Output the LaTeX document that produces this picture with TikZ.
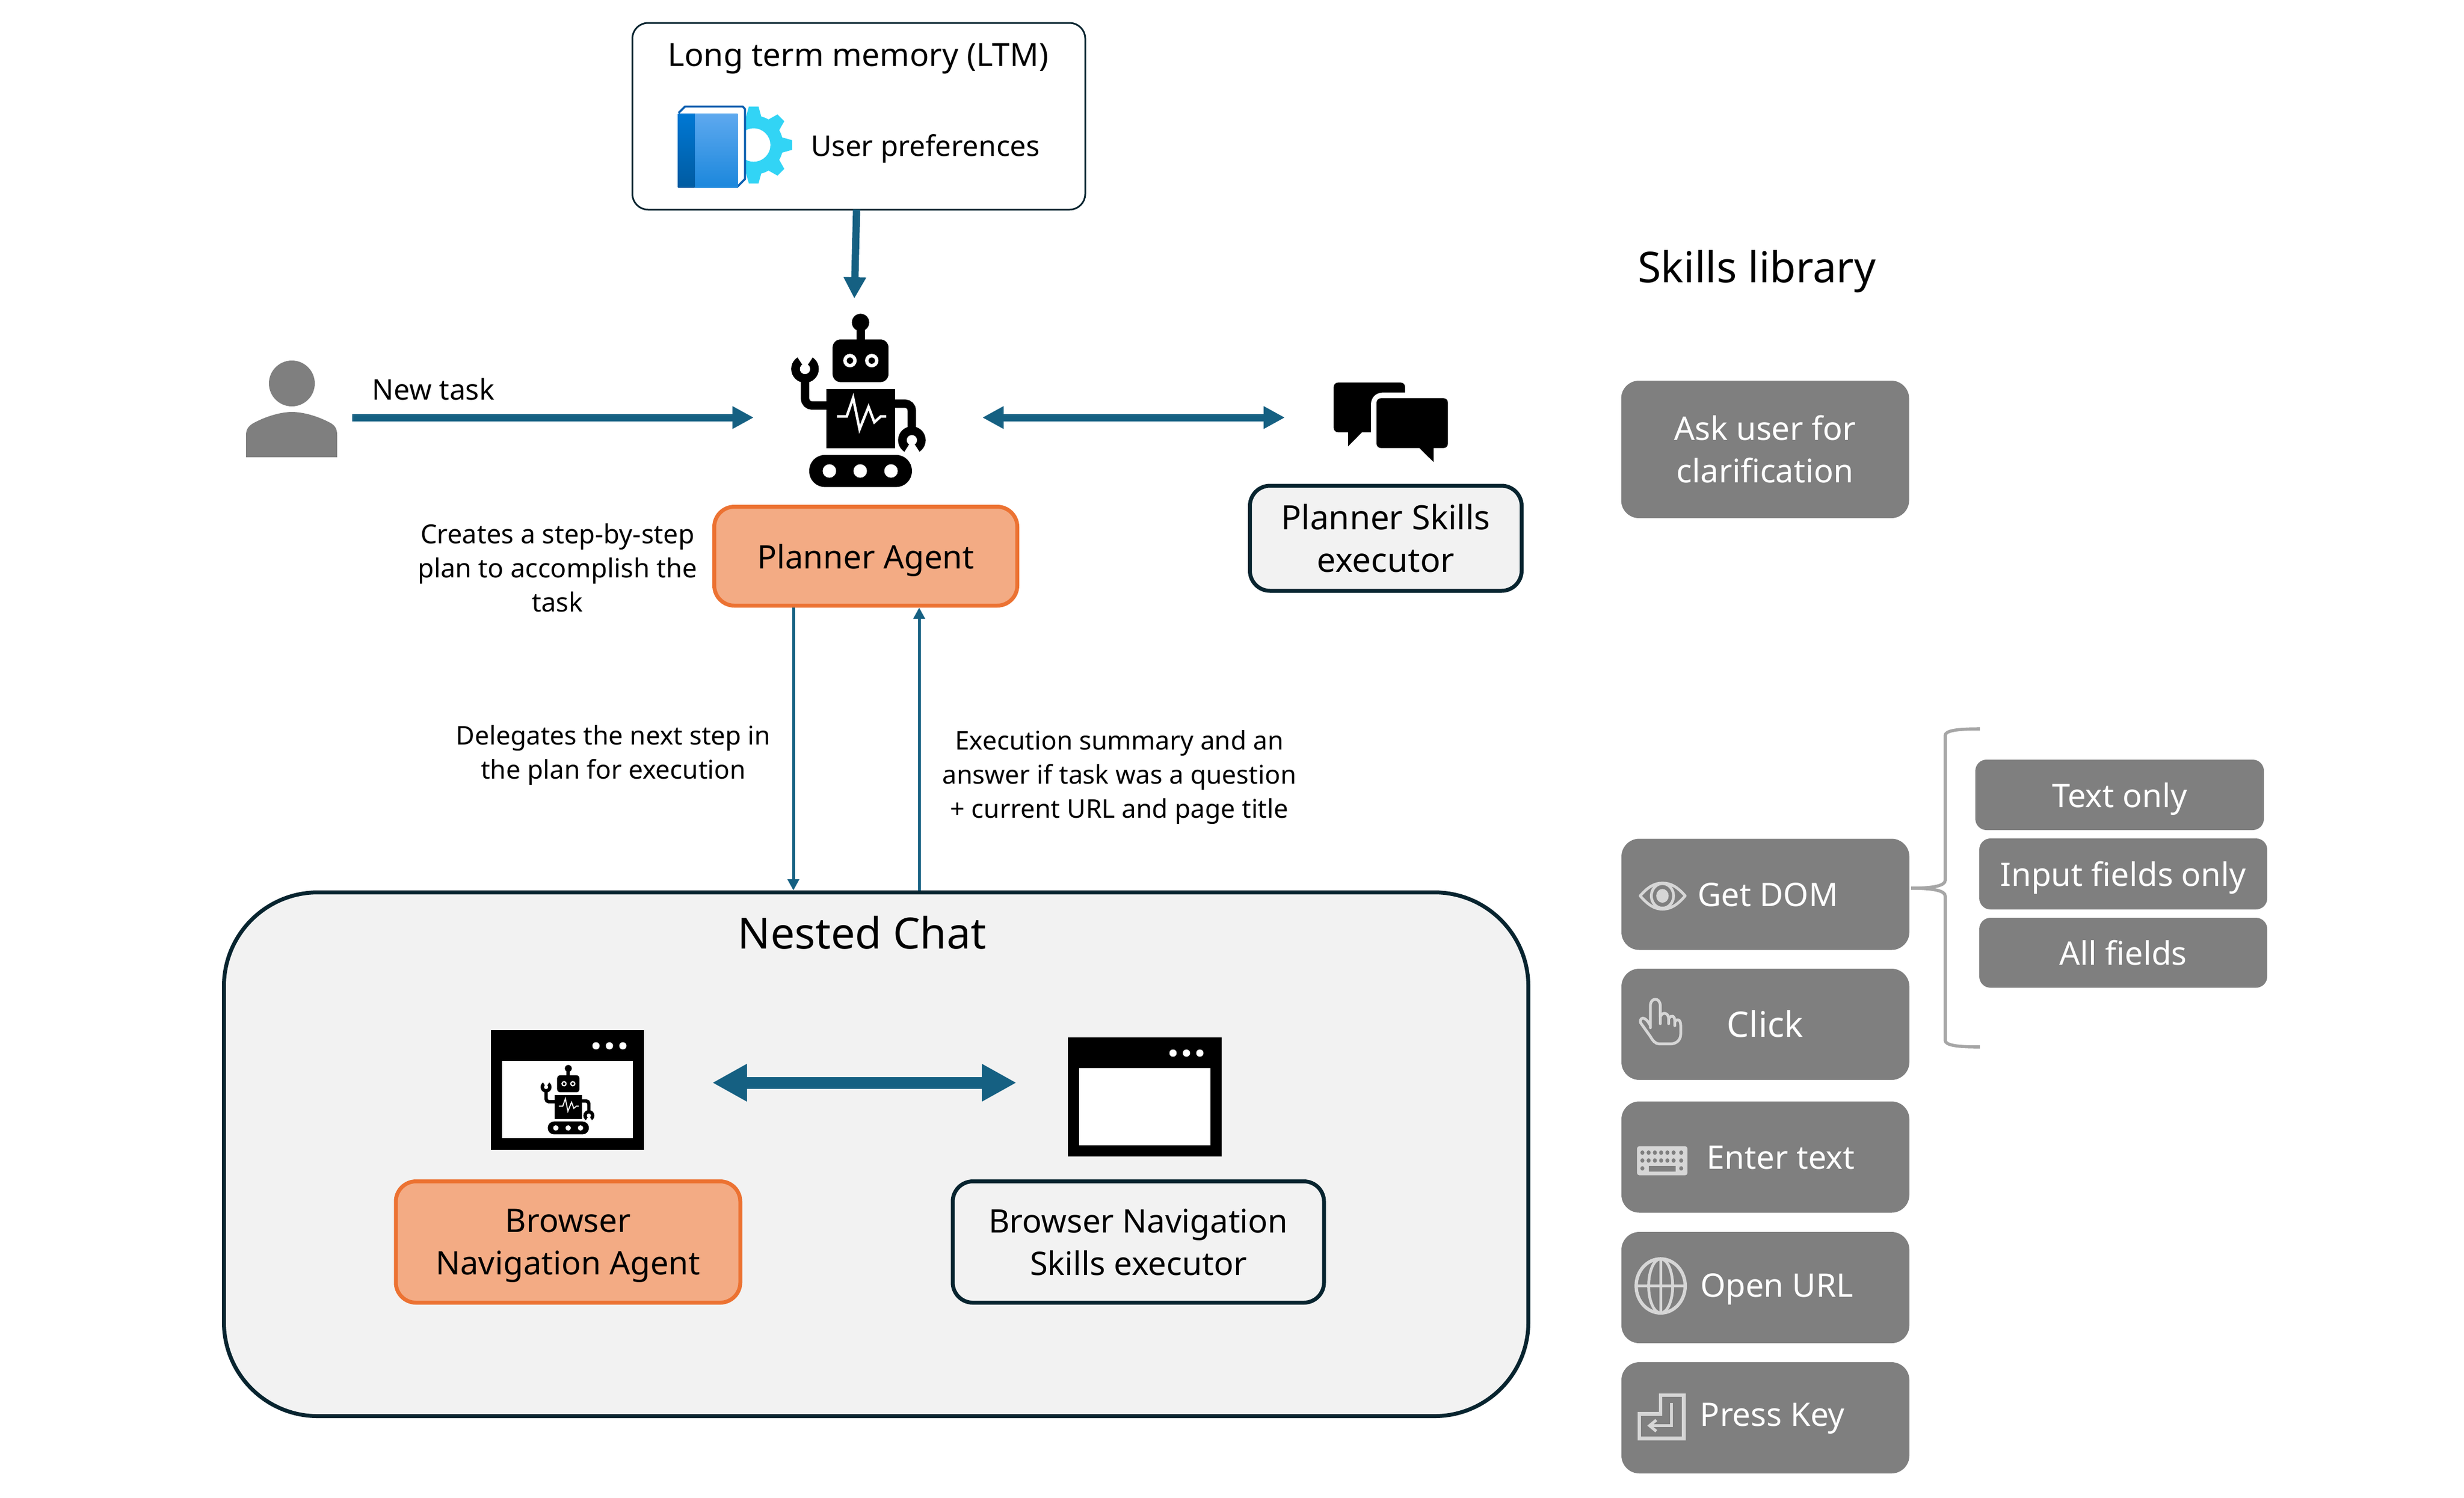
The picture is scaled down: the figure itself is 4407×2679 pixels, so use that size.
\documentclass[tikz,border=0pt]{standalone}
\usepackage{fontspec}
\setmainfont{Noto Sans}
\usetikzlibrary{arrows.meta,calc}
\definecolor{arrowblue}{HTML}{156082}
\definecolor{darkedge}{HTML}{07242F}
\definecolor{orangefill}{HTML}{F3AB84}
\definecolor{orangeedge}{HTML}{EC7232}
\definecolor{panel}{HTML}{F2F2F2}
\definecolor{skillgray}{HTML}{7F7F7F}
\definecolor{iconlight}{HTML}{D6D6D6}
\definecolor{bracegray}{HTML}{A6A6A6}
\definecolor{gearcyan}{HTML}{32D4F5}
\definecolor{spinetop}{HTML}{0078D4}
\definecolor{spinebot}{HTML}{005BA1}
\definecolor{pagetop}{HTML}{5EA9EF}
\definecolor{pagebot}{HTML}{1B87DC}
\definecolor{bookedge}{HTML}{0B5FB0}
\newcommand\fsz[2]{\fontsize{\fpeval{#1*0.25}}{\fpeval{#2*0.25}}\selectfont}
\newcommand\nodepth[1]{\raisebox{0pt}[\height][0pt]{#1}}
\tikzset{
 agentbox/.style={draw=orangeedge,fill=orangefill,line width=1.75pt,rounded corners=9pt,inner sep=0pt,align=center,text=black},
 execbox/.style={draw=darkedge,fill=panel,line width=1.75pt,rounded corners=9pt,inner sep=0pt,align=center,text=black},
 skillbox/.style={fill=skillgray,rounded corners=8pt,inner sep=0pt,align=center,text=white},
 subbox/.style={fill=skillgray,rounded corners=5pt,inner sep=0pt,align=center,text=white},
 skilltext/.style={text=white,inner sep=0pt,align=center,font=\fsz{58}{76}},
 boxtext/.style={font=\fsz{57}{76}},
 smalltext/.style={text=black,inner sep=0pt,align=center,font=\fsz{46}{61}},
 bigarrow/.style={draw=arrowblue,line width=3.25pt,-{Triangle[length=9.5pt,width=9.5pt]}},
 twoarrow/.style={draw=arrowblue,line width=3.25pt,{Triangle[length=9.5pt,width=9.5pt]}-{Triangle[length=9.5pt,width=9.5pt]}},
 wideTwoarrow/.style={draw=arrowblue,line width=5.25pt,{Triangle[length=15.5pt,width=15.75pt]}-{Triangle[length=15.5pt,width=15.75pt]}},
 thinarrow/.style={draw=arrowblue,line width=1.25pt,-{Triangle[length=5pt,width=5pt]}},
 icon/.style={draw=iconlight,line width=1.25pt,line join=round,line cap=round}
}
\newcommand\robot[3]{%
 \pgfmathsetmacro\rs{#3*0.25}
 \begin{scope}[shift={(#1,#2)},x=\rs pt,y=-\rs pt]
  \fill[black] (765,1005) circle[radius=27];
  \fill[black] (752,1005) rectangle (778,1070);
  \fill[black,rounded corners=25*\rs pt] (678,1058) rectangle (852,1191);
  \foreach \ex in {732,800}{\fill[white] (\ex,1124) circle[radius=21]; \fill[black] (\ex,1124) circle[radius=10];}
  \fill[black] (658,1212) rectangle (872,1398);
  \draw[white,line width=8*\rs pt,line join=miter] (692,1298)--(722,1298)--(742,1240)--(762,1338)--(790,1268)--(808,1316)--(828,1298)--(845,1298);
  \draw[black,line width=26*\rs pt,rounded corners=22*\rs pt] (665,1264)--(592,1264)--(592,1180);
  \fill[black] (592,1150) circle[radius=43];
  \fill[white] (592,1150)--(560,1100)--(625,1100)--cycle;
  \fill[white] (592,1150) circle[radius=16];
  \draw[black,line width=26*\rs pt,rounded corners=22*\rs pt] (865,1258)--(925,1258)--(925,1345);
  \fill[black] (925,1372) circle[radius=43];
  \fill[white] (925,1372)--(893,1422)--(958,1422)--cycle;
  \fill[white] (925,1372) circle[radius=16];
  \fill[black,rounded corners=49*\rs pt] (605,1418) rectangle (925,1518);
  \foreach \wx in {668,764,860}{\fill[white] (\wx,1468) circle[radius=21];}
 \end{scope}}
\begin{document}
\begin{tikzpicture}[x=0.25pt,y=-0.25pt]
\useasboundingbox (0,0) rectangle (4407,2679);

% nested panel
\node[draw=darkedge,fill=panel,line width=1.75pt,rounded corners=42pt,minimum width=2333*0.25pt,minimum height=937*0.25pt,inner sep=0pt] (nested) at (1567,2065) {};
\node[inner sep=0pt,font=\fsz{77}{80}] (nestedtitle) at (1542,1669) {Nested Chat};

% LTM
\node[draw=darkedge,fill=white,line width=0.75pt,rounded corners=7pt,minimum width=810*0.25pt,minimum height=334*0.25pt,inner sep=0pt] (ltm) at (1536,208) {};
\node[inner sep=0pt,boxtext] (ltmtitle) at (1535,105) {Long term memory (LTM)};
\node[smalltext,font=\fsz{51}{61}] (prefs) at (1655,266) {User preferences};
% book and gear
\begin{scope}[shift={(1100,0)},x=0.1435pt,y=-0.1435pt]
 \begin{scope}[shift={(432,452)}]
  \fill[gearcyan] (0,0) circle[radius=92];
  \foreach \a in {0,45,...,315}{\fill[gearcyan,rotate=\a] (84,-25)--(120,-15)--(120,15)--(84,25)--cycle;}
  \fill[white] (0,0) circle[radius=52];
 \end{scope}
 \fill[white] (196,352)--(216,332)--(405,332)--(405,560)--(380,585)--(196,585)--cycle;
 \draw[bookedge,line width=0.9pt,line join=round] (198,352)--(218,332)--(398,332)--(405,340)--(405,558)--(380,583);
 \fill[top color=pagetop,bottom color=pagebot] (248,354) rectangle (382,584);
 \fill[top color=spinetop,bottom color=spinebot] (196,354) rectangle (248,584);
\end{scope}

% planner
\robot{1100}{0}{0.574}
\node[agentbox,minimum width=542*0.25pt,minimum height=177*0.25pt,font=\fsz{58}{76}] (planner) at (1548.5,995) {\nodepth{Planner Agent}};
\node[smalltext,font=\fsz{47}{61}] (creates) at (997,1016) {Creates a step-by-step\\plan to accomplish the\\task};

% person
\fill[skillgray] (522,686) circle[radius=41];
\fill[skillgray] (440,818)--(440,778) .. controls (440,765) and (448,760) .. (455,756) .. controls (480,743) and (505,737) .. (522,737) .. controls (540,737) and (565,743) .. (590,756) .. controls (597,760) and (603,765) .. (603,778) -- (603,818) -- cycle;
\coordinate (person) at (630,747);
\coordinate (robotleft) at (1348,747);
\coordinate (robotright) at (1757,747);
\coordinate (chaticon) at (2298,747);
\node[smalltext,font=\fsz{51}{61}] (newtask) at (775,696) {New task};
\draw[bigarrow] (person)--(robotleft);
\draw[twoarrow] (robotright)--(chaticon);

% LTM arrow
\coordinate (ltmfoot) at (1532,375);
\coordinate (robottop) at (1528,534);
\draw[bigarrow] (ltmfoot)--(robottop);

% chat icon
\begin{scope}[shift={(2300,640)},x=0.0833333pt,y=-0.0833333pt]
 \fill[black] (256,400) ++(0,-25) -- (256,158) .. controls (256,143) and (266,133) .. (281,133) -- (614,133) .. controls (629,133) and (639,143) .. (639,158) -- (639,187) -- (520,187) .. controls (482,187) and (456,213) .. (456,250) -- (456,400) -- (408,400) -- (333,476) -- (333,400) -- (281,400) .. controls (266,400) and (256,390) .. (256,375) -- cycle;
 \fill[black] (486,242) .. controls (486,227) and (496,217) .. (511,217) -- (844,217) .. controls (859,217) and (869,227) .. (869,242) -- (869,460) .. controls (869,475) and (859,485) .. (844,485) -- (792,485) -- (792,560) -- (716,485) -- (511,485) .. controls (496,485) and (486,475) .. (486,460) -- cycle;
\end{scope}
\node[execbox,minimum width=486*0.25pt,minimum height=188*0.25pt,font=\fsz{60}{76}] (pskills) at (2478.5,963) {Planner Skills\\executor};

% vertical connectors
\coordinate (downx) at (1419,1300);
\coordinate (upx) at (1644,1300);
\draw[thinarrow] (planner.south -| downx)--(nested.north -| downx);
\draw[thinarrow] (nested.north -| upx)--(planner.south -| upx);
\node[smalltext] (delegates) at (1097,1351) {Delegates the next step in\\the plan for execution};
\node[smalltext] (summary) at (2002,1391) {Execution summary and an\\answer if task was a question\\+ current URL and page title};

% windows
\fill[black] (878,1843) rectangle (1152,2057);
\fill[white] (898,1898) rectangle (1132,2036);
\foreach \dx in {1066,1090,1114}{\fill[white] (\dx,1871) circle[radius=6.5];}
\robot{840.5}{1680.3}{0.23}
\fill[black] (1910,1856) rectangle (2185,2069);
\fill[white] (1930,1911) rectangle (2165,2049);
\foreach \dx in {2098,2122,2146}{\fill[white] (\dx,1884) circle[radius=6.5];}
\coordinate (winleft) at (1274,1937);
\coordinate (winright) at (1818,1937);
\draw[wideTwoarrow] (winleft)--(winright);
\node[agentbox,minimum width=616*0.25pt,minimum height=217*0.25pt,font=\fsz{58}{76}] (bagent) at (1016,2222) {Browser\\\nodepth{Navigation Agent}};
\node[execbox,minimum width=664*0.25pt,minimum height=217*0.25pt,font=\fsz{58}{76}] (bskills) at (2036,2222) {Browser Navigation\\Skills executor};

% skills library
\node[inner sep=0pt,font=\fsz{76}{80}] (skillstitle) at (3142,486) {Skills library};
\node[skillbox,minimum width=515*0.25pt,minimum height=246*0.25pt,font=\fsz{58}{76}] (askuser) at (3157,804) {Ask user for\\clarification};
\node[skillbox,minimum width=515*0.25pt,minimum height=199*0.25pt] (getdom) at (3157.5,1600) {};
\node[skillbox,minimum width=515*0.25pt,minimum height=199*0.25pt] (click) at (3157.5,1832.5) {};
\node[skillbox,minimum width=515*0.25pt,minimum height=199*0.25pt] (enter) at (3157.5,2070) {};
\node[skillbox,minimum width=515*0.25pt,minimum height=199*0.25pt] (openurl) at (3157.5,2303.5) {};
\node[skillbox,minimum width=515*0.25pt,minimum height=199*0.25pt] (presskey) at (3157.5,2536.5) {};
\node[skilltext] (getdomt) at (3162,1601) {Get DOM};
\node[skilltext,font=\fsz{63}{76}] (clickt) at (3157,1832) {Click};
\node[skilltext] (entert) at (3185,2071) {Enter text};
\node[skilltext] (openurlt) at (3178,2306) {Open URL};
\node[skilltext] (presskeyt) at (3170,2538) {Press Key};
\node[subbox,minimum width=516*0.25pt,minimum height=126*0.25pt,font=\fsz{58}{76}] (textonly) at (3791,1422) {\nodepth{Text only}};
\node[subbox,minimum width=515*0.25pt,minimum height=127*0.25pt,font=\fsz{58}{76}] (inputonly) at (3797.5,1563.5) {\nodepth{Input fields only}};
\node[subbox,minimum width=515*0.25pt,minimum height=125*0.25pt,font=\fsz{58}{76}] (allfields) at (3797.5,1704.5) {All fields};
% brace
\draw[draw=bracegray,line width=1.4pt] (3541,1304) .. controls (3500,1304) and (3479,1307) .. (3479,1316) -- (3479,1575) .. controls (3479,1584) and (3460,1589) .. (3418,1589) .. controls (3460,1589) and (3479,1594) .. (3479,1603) -- (3479,1861) .. controls (3479,1870) and (3500,1873) .. (3541,1873);

% skill icons, in local pixels
\begin{scope}[shift={(2900,1300)},x=0.1993pt,y=-0.22pt]
 % eye
 \draw[icon] (42,344) .. controls (60,325) and (75,318) .. (92,318) .. controls (110,318) and (125,325) .. (143,344) .. controls (125,363) and (110,371) .. (92,371) .. controls (75,371) and (60,363) .. (42,344) -- cycle;
 \draw[icon] (92,344) circle[radius=25];
 \fill[iconlight] (92,344) circle[radius=14];
 % hand
 \draw[icon] (65,612) -- (65,567) .. controls (65,550) and (87,550) .. (87,567) -- (87,590) .. controls (92,578) and (106,582) .. (106,594) .. controls (112,584) and (120,588) .. (120,600) .. controls (126,592) and (133,596) .. (133,608) -- (133,625) .. controls (133,638) and (122,645) .. (110,645) -- (85,645) .. controls (76,645) and (70,638) .. (65,630) -- (43,602) .. controls (40,592) and (52,585) .. (65,608);
 \draw[icon] (87,590) -- (87,604);
 \draw[icon] (106,594) -- (106,604);
 \draw[icon] (120,600) -- (120,608);
 % keyboard
 \fill[iconlight,rounded corners=1pt] (35,853) rectangle (148,912);
 \foreach \ky in {866,882}{\foreach \kx in {47,61,75,89,103,117,134}{\fill[skillgray] (\kx,\ky) circle[radius=4.5];}}
 \foreach \kx in {47,134}{\fill[skillgray] (\kx,898) circle[radius=4.5];}
 \fill[skillgray] (62,893) rectangle (122,904);
 % globe
 \draw[icon,line width=1.5pt] (88,1137) circle[radius=55];
 \draw[icon] (88,1082) -- (88,1192);
 \draw[icon] (33,1137) -- (143,1137);
 \draw[icon] (88,1137) ellipse[x radius=27,y radius=55];
 % press key
 \draw[icon,line width=1.6pt,line cap=butt,line join=miter] (40,1397) -- (88,1397) -- (88,1359) -- (140,1359) -- (140,1447) -- (40,1447) -- cycle;
 \draw[icon,line width=1.3pt,line cap=butt,line join=miter,-{Straight Barb[length=3pt,width=5pt]}] (112,1375) -- (112,1421) -- (58,1421);
\end{scope}
\end{tikzpicture}
\end{document}
